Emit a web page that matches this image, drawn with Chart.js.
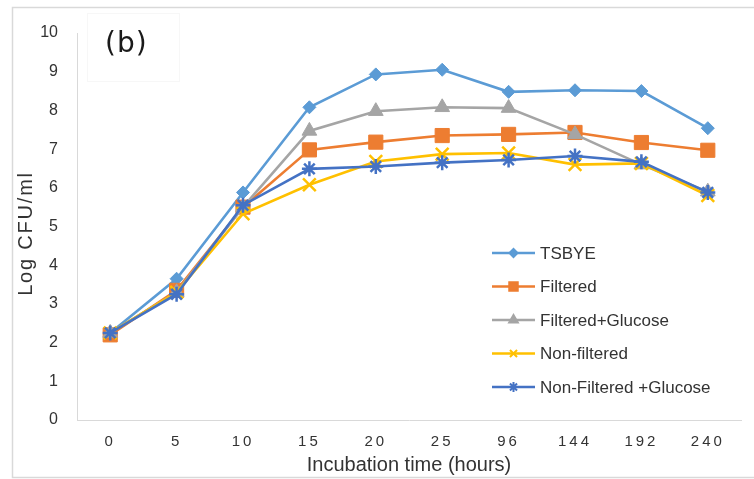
<!DOCTYPE html>
<html>
<head>
<meta charset="utf-8">
<script src="https://cdn.jsdelivr.net/npm/chart.js@4/dist/chart.umd.min.js"></script>
<style>
  html, body { margin: 0; padding: 0; background: #fff; }
  #wrap { position: relative; width: 754px; height: 479px; }
</style>
</head>
<body>
<div id="wrap"><canvas id="c" width="754" height="479"></canvas></div>
<script>
// ---- Data ----
const categories = ['0', '5', '10', '15', '20', '25', '96', '144', '192', '240'];
const seriesNames = ['TSBYE', 'Filtered', 'Filtered+Glucose', 'Non-filtered', 'Non-Filtered +Glucose'];
const tsbye = [2.25, 3.65, 5.88, 8.08, 8.93, 9.05, 8.48, 8.52, 8.50, 7.54];
const filtered = [2.20, 3.35, 5.50, 6.98, 7.18, 7.35, 7.38, 7.43, 7.17, 6.97];
const filteredGlucose = [2.25, 3.30, 5.50, 7.47, 7.98, 8.08, 8.06, 7.38, 6.60, 5.90];
const nonFiltered = [2.25, 3.30, 5.33, 6.08, 6.68, 6.87, 6.90, 6.60, 6.63, 5.80];
const nonFilteredGlucose = [2.25, 3.25, 5.55, 6.49, 6.55, 6.65, 6.72, 6.82, 6.67, 5.88];
const yTicks = [0, 1, 2, 3, 4, 5, 6, 7, 8, 9, 10];

const FONT = "'Liberation Sans', Arial, sans-serif";
const TXT = '#333333';

const styles = [
  { color: '#5B9BD5', point: 'rectRot', radius: 6.5, lr: 4 },
  { color: '#ED7D31', point: 'rect', radius: 10, lr: 6 },
  { color: '#A5A5A5', point: 'triangle', radius: 8.5, lr: 5 },
  { color: '#FFC000', point: 'crossRot', radius: 9, lr: 5 },
  { color: '#4472C4', point: 'star', radius: 7.5, lr: 5 }
];
const values = [tsbye, filtered, filteredGlucose, nonFiltered, nonFilteredGlucose];

const datasets = values.map((v, i) => ({
  label: seriesNames[i],
  data: v,
  borderColor: styles[i].color,
  backgroundColor: styles[i].color,
  pointBackgroundColor: styles[i].color,
  pointBorderColor: styles[i].color,
  pointStyle: styles[i].point,
  pointRadius: styles[i].radius,
  pointHoverRadius: styles[i].radius,
  pointBorderWidth: (styles[i].point === 'crossRot' || styles[i].point === 'star') ? 2.5 : 1,
  borderWidth: 2.6,
  tension: 0,
  fill: false,
  order: values.length - i
}));

const customLegend = {
  id: 'customLegend',
  afterDatasetsDraw(chart) {
    const ctx = chart.ctx;
    const x0 = 492, x1 = 535, tx = 540;
    const rows = [253, 286.5, 320, 353.5, 387];
    chart.data.datasets.forEach((ds, i) => {
      const y = rows[i];
      ctx.save();
      ctx.strokeStyle = ds.borderColor; ctx.lineWidth = 2.6;
      ctx.beginPath(); ctx.moveTo(x0, y); ctx.lineTo(x1, y); ctx.stroke();
      ctx.restore();
      ctx.save();
      ctx.fillStyle = ds.borderColor; ctx.strokeStyle = ds.borderColor; ctx.lineWidth = 2;
      Chart.helpers.drawPoint(ctx, { pointStyle: ds.pointStyle, radius: styles[i].lr, rotation: 0, borderWidth: 2 }, (x0 + x1) / 2, y);
      ctx.restore();
      ctx.save();
      ctx.fillStyle = TXT; ctx.font = '17px ' + FONT;
      ctx.textBaseline = 'middle'; ctx.textAlign = 'left';
      ctx.fillText(ds.label, tx, y + 1);
      ctx.restore();
    });
  }
};

function withSpacing(scale, method, spacing, dy) {
  const orig = scale[method];
  scale[method] = function (...args) {
    const c = this.ctx;
    const prev = c.letterSpacing;
    c.save();
    if (dy) c.translate(0, dy);
    c.letterSpacing = spacing;
    orig.apply(this, args);
    c.letterSpacing = prev || '0px';
    c.restore();
  };
}

const frame = {
  id: 'frame',
  beforeDraw(chart) {
    const ctx = chart.ctx;
    ctx.save();
    ctx.fillStyle = '#fff'; ctx.fillRect(0, 0, chart.width, chart.height);
    ctx.strokeStyle = '#d9d9d9'; ctx.lineWidth = 1.5;
    ctx.beginPath();
    ctx.moveTo(754, 7.5); ctx.lineTo(12.5, 7.5); ctx.lineTo(12.5, 477.5); ctx.lineTo(754, 477.5);
    ctx.stroke();
    // (b) label box (very faint)
    ctx.strokeStyle = '#f7f7f7'; ctx.lineWidth = 1;
    ctx.strokeRect(87.5, 13.5, 92, 68);
    ctx.fillStyle = '#1a1a1a'; ctx.font = "28px 'DejaVu Sans', sans-serif";
    ctx.letterSpacing = '1px';
    ctx.textBaseline = 'middle'; ctx.textAlign = 'left';
    ctx.fillText('(b)', 105, 45);
    ctx.letterSpacing = '0px';
    ctx.restore();
  },
  afterLayout(chart) {
    const xs = chart.scales.x, ys = chart.scales.y;
    if (xs && !xs._lsPatched) { withSpacing(xs, 'drawLabels', '3px', 0); xs._lsPatched = true; }
    if (ys && !ys._lsPatched) { withSpacing(ys, 'drawTitle', '1.8px', 7); ys._lsPatched = true; }
  }
};

new Chart(document.getElementById('c'), {
  type: 'line',
  data: { labels: categories, datasets },
  plugins: [frame, customLegend],
  options: {
    responsive: false,
    animation: false,
    devicePixelRatio: 1,
    layout: { padding: { top: 33, right: 13, left: 0, bottom: 0 } },
    plugins: { legend: { display: false }, tooltip: { enabled: false } },
    scales: {
      x: {
        type: 'category',
        offset: true,
        grid: { display: false, drawTicks: false },
        border: { display: true, color: '#d9d9d9', width: 1 },
        ticks: { color: TXT, font: { family: FONT, size: 15 }, padding: 13, maxRotation: 0, autoSkip: false },
        title: { display: true, text: 'Incubation time (hours)', color: TXT, font: { family: FONT, size: 20 }, padding: { top: 0, bottom: 2 } },
        afterFit(s) { s.height = 59; }
      },
      y: {
        min: 0, max: 10,
        afterBuildTicks(s) { s.ticks = yTicks.map(v => ({ value: v })); },
        grid: { display: false, drawTicks: false },
        border: { display: true, color: '#d9d9d9', width: 1 },
        ticks: { color: TXT, font: { family: FONT, size: 16 }, padding: 19 },
        title: { display: true, text: 'Log CFU/ml', color: TXT, font: { family: FONT, size: 20 }, padding: { top: 14, bottom: 0 } },
        afterFit(s) { s.width = 77; }
      }
    }
  }
});
</script>
</body>
</html>
